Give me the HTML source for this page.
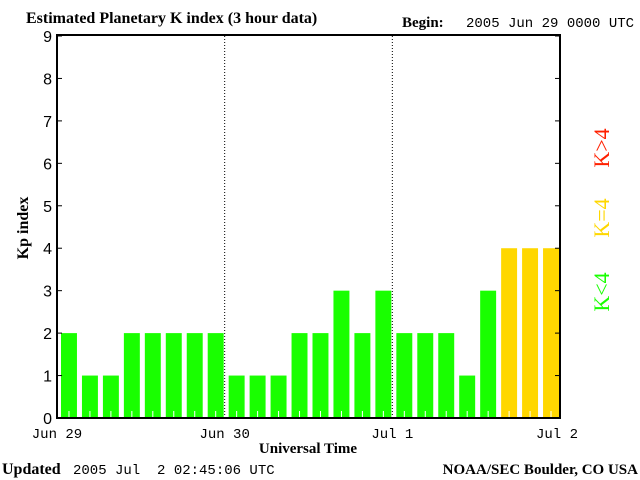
<!DOCTYPE html>
<html><head><meta charset="utf-8"><style>
body{margin:0;background:#fff;}
svg{display:block;font-family:"Liberation Sans",sans-serif;}
</style></head><body>
<svg id="c" width="640" height="480">
<text x="26" y="23" font-family="Liberation Serif" font-weight="bold" font-size="16">Estimated Planetary K index (3 hour data)</text>
<text x="402" y="27" font-family="Liberation Serif" font-weight="bold" font-size="15">Begin:</text>
<text x="466" y="27" font-size="14" font-family="Liberation Mono">2005 Jun 29 0000 UTC</text>
<text x="28" y="228" transform="rotate(-90 28 228)" text-anchor="middle" font-family="Liberation Serif" font-weight="bold" font-size="16">Kp index</text>
<text x="308" y="453" text-anchor="middle" font-family="Liberation Serif" font-weight="bold" font-size="15">Universal Time</text>
<text x="2" y="474" font-family="Liberation Serif" font-weight="bold" font-size="16">Updated</text>
<text x="73" y="474" font-size="14" font-family="Liberation Mono" xml:space="preserve">2005 Jul  2 02:45:06 UTC</text>
<text x="638" y="474" text-anchor="end" font-family="Liberation Serif" font-weight="bold" font-size="15">NOAA/SEC Boulder, CO USA</text>
<text x="609" y="148" transform="rotate(-90 609 148)" text-anchor="middle" fill="#ff2000" font-family="Liberation Serif" font-size="22">K&gt;4</text>
<text x="609" y="218" transform="rotate(-90 609 218)" text-anchor="middle" fill="#ffd700" font-family="Liberation Serif" font-size="22">K=4</text>
<text x="609" y="292" transform="rotate(-90 609 292)" text-anchor="middle" fill="#19ff00" font-family="Liberation Serif" font-size="22">K&lt;4</text>
<g id="plot"></g>
</svg>
<script>
const kpValues=[2,1,1,2,2,2,2,2,1,1,1,2,2,3,2,3,2,2,2,1,3,4,4,4];
const yTicks=[0,1,2,3,4,5,6,7,8,9];
const dayLabels=["Jun 29","Jun 30","Jul 1","Jul 2"];
const X0=57,X1=560,Y0=418,Y9=36;
const NS="http://www.w3.org/2000/svg";
const g=document.getElementById('plot');
const slot=(X1-X0)/kpValues.length;
const xs=i=>X0+i*slot;
const ys=v=>Y0-(Y0-Y9)*v/9;
function mk(t,a){const e=document.createElementNS(NS,t);for(const k in a)e.setAttribute(k,a[k]);g.appendChild(e);return e;}
kpValues.forEach((v,i)=>{
 const col=v<4?'#19ff00':(v==4?'#ffd700':'#ff2000');
 const r=mk('rect',{x:xs(i)+4,y:ys(v),width:slot-5,height:Y0-ys(v),fill:col});
 
 
 const t=mk('line',{x1:xs(i)+slot/2+1.5,x2:xs(i)+slot/2+1.5,y1:Y0-7,y2:Y0,stroke:'#fff'});
 
 
});
[1,2].forEach(d=>{
 const l=mk('line',{x1:xs(d*8),x2:xs(d*8),y1:Y9,y2:Y0,stroke:'#000','stroke-dasharray':'1,2'});
 
 
});
const fr=mk('rect',{x:X0,y:Y9-1,width:X1-X0,height:Y0-Y9+1,fill:'none',stroke:'#000','stroke-width':2});


yTicks.forEach(v=>{
 const a=mk('line',{x1:X0,x2:X0+5,y1:ys(v),y2:ys(v),stroke:'#000'});
 
 
 const b=mk('line',{x1:X1-5,x2:X1,y1:ys(v),y2:ys(v),stroke:'#000'});
 
 
 const t=mk('text',{x:X0-5,y:ys(v)+6,'text-anchor':'end','font-size':16});
 t.textContent=v;
 
 
});
dayLabels.forEach((s,d)=>{
 const t=mk('text',{x:xs(d*8)+(d==3?-3:0),y:438,'text-anchor':'middle','font-size':14,'font-family':'Liberation Mono'});
 t.textContent=s;
 
 
});
</script>
</body></html>
